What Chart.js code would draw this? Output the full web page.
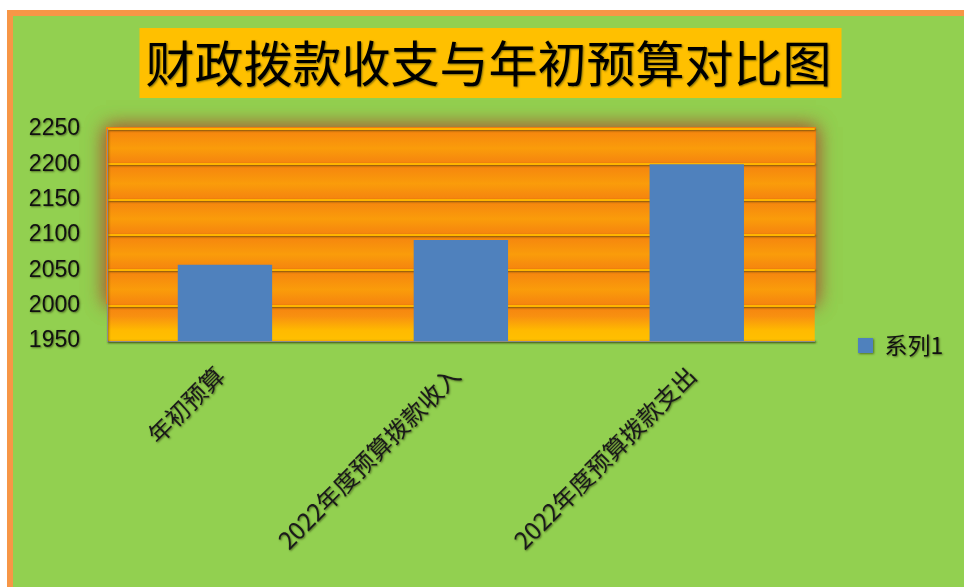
<!DOCTYPE html>
<html>
<head>
<meta charset="utf-8">
<title>财政拨款收支与年初预算对比图</title>
<script src="https://cdn.jsdelivr.net/npm/chart.js"></script>
<style>
  html, body { margin: 0; padding: 0; background: #fff; }
  #wrap { width: 964px; height: 587px; }
</style>
</head>
<body>
<div id="wrap"><canvas id="chart" width="964" height="587"></canvas></div>
<script>
// chart data
const chartTitle = '财政拨款收支与年初预算对比图';
const categories = ['年初预算', '2022年度预算拨款收入', '2022年度预算拨款支出'];
const seriesName = '系列1';
const seriesValues = [2058, 2093, 2200];
const yTickLabels = [1950, 2000, 2050, 2100, 2150, 2200, 2250];

const CJK = '"Noto Sans CJK SC", "Noto Sans", sans-serif';
const TITLE_SIZE = 49;
const LEGEND_PAD = 54;

// background, orange striped plot area and title box
const backdrop = {
  id: 'backdrop',
  beforeDraw(chart) {
    const ctx = chart.ctx;
    const area = chart.chartArea;
    const y = chart.scales.y;
    ctx.save();
    ctx.fillStyle = '#fff';
    ctx.fillRect(0, 0, chart.width, chart.height);
    ctx.fillStyle = '#F79646';
    ctx.fillRect(7, 10, chart.width - 7, chart.height - 10);
    ctx.fillStyle = '#92D050';
    ctx.fillRect(13, 16, chart.width - 13, chart.height - 16);

    // glow around the upper part of the plot
    const glowBottom = y.getPixelForValue(yTickLabels[1]);
    ctx.save();
    ctx.shadowColor = 'rgba(165,105,55,1)';
    ctx.shadowBlur = 18;
    ctx.fillStyle = '#F5820F';
    for (let k = 0; k < 2; k++) {
      ctx.fillRect(area.left - 1, area.top - 2, area.right - area.left + 2, glowBottom - area.top);
    }
    ctx.restore();

    // bands between gridlines
    for (let i = 0; i < yTickLabels.length - 1; i++) {
      const yb = y.getPixelForValue(yTickLabels[i]);
      const yt = y.getPixelForValue(yTickLabels[i + 1]);
      const g = ctx.createLinearGradient(0, yt, 0, yb);
      if (i === 0) {
        g.addColorStop(0, '#F5830F');
        g.addColorStop(0.3, '#F89010');
        g.addColorStop(0.7, '#FFBA00');
        g.addColorStop(1, '#FFC000');
      } else {
        g.addColorStop(0, '#F5830F');
        g.addColorStop(0.55, '#FA9C0A');
        g.addColorStop(1, '#F5820F');
      }
      ctx.fillStyle = g;
      ctx.fillRect(area.left, yt, area.right - area.left, yb - yt);
    }

    // title box
    const tb = chart.titleBlock;
    ctx.font = TITLE_SIZE + 'px ' + CJK;
    const tw = ctx.measureText(chartTitle).width;
    const cx = (tb.left + tb.right) / 2 + 2;
    ctx.fillStyle = '#FFC000';
    ctx.fillRect(cx - tw / 2 - 8, tb.top + 12, tw + 16, 70);
    ctx.restore();

    // soft dark glow on texts and grid drawn before the bars
    ctx.shadowColor = 'rgba(40,50,10,0.6)';
    ctx.shadowBlur = 2;
    ctx.shadowOffsetX = 1;
    ctx.shadowOffsetY = 1;
  },
  beforeDatasetsDraw(chart) {
    const ctx = chart.ctx;
    ctx.shadowColor = 'rgba(0,0,0,0)';
    ctx.shadowBlur = 0;
    ctx.shadowOffsetX = 0;
    ctx.shadowOffsetY = 0;
  },
  afterLayout(chart) {
    // legend sits low on the right, next to the axis line
    const lg = chart.legend;
    const h = lg.height;
    lg.left = 858 - LEGEND_PAD;
    lg.right = lg.left + lg.width;
    lg.top = 334 - LEGEND_PAD;
    lg.bottom = lg.top + h;
  }
};

new Chart(document.getElementById('chart'), {
  type: 'bar',
  data: {
    labels: categories,
    datasets: [{
      label: seriesName,
      data: seriesValues,
      backgroundColor: '#4F81BD',
      borderWidth: 0,
      categoryPercentage: 1,
      barPercentage: 0.4
    }]
  },
  options: {
    responsive: false,
    devicePixelRatio: 1,
    animation: false,
    layout: { padding: { left: 13, top: 16, right: 0, bottom: 0 } },
    plugins: {
      title: {
        display: true,
        text: chartTitle,
        color: '#000',
        font: { family: CJK, size: TITLE_SIZE, weight: 'normal', lineHeight: 70 / TITLE_SIZE },
        padding: { top: 12, bottom: 31 }
      },
      legend: {
        position: 'right',
        align: 'start',
        labels: {
          boxWidth: 15,
          boxHeight: 15,
          padding: LEGEND_PAD,
          color: '#111',
          font: { family: CJK, size: 23 }
        }
      },
      tooltip: { enabled: false }
    },
    scales: {
      x: {
        grid: { display: false },
        border: { display: true, color: '#8C8C8C', width: 1 },
        ticks: {
          color: '#1a1a1a',
          font: { family: CJK, size: 24 },
          minRotation: 45,
          maxRotation: 45,
          autoSkip: false,
          padding: 12,
          labelOffset: -5
        },
        afterFit(scale) { scale.height = 246; }
      },
      y: {
        min: yTickLabels[0],
        max: yTickLabels[yTickLabels.length - 1],
        ticks: {
          stepSize: yTickLabels[1] - yTickLabels[0],
          color: '#111',
          font: { family: '"Liberation Sans", Arial, sans-serif', size: 23 },
          padding: 27,
          callback: v => String(v)
        },
        grid: { color: '#FFB400', lineWidth: 2, drawTicks: false },
        border: { display: true, color: '#8C8C8C', width: 1 },
        afterFit(scale) { scale.width = 94; }
      }
    }
  },
  plugins: [backdrop]
});
</script>
</body>
</html>
